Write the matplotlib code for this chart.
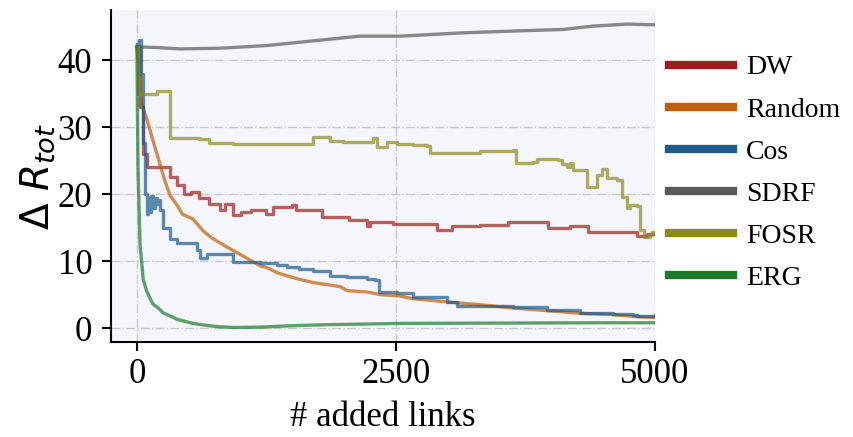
import matplotlib
matplotlib.use("Agg")
import matplotlib.pyplot as plt

plt.rcParams['font.family'] = ['Liberation Serif', 'DejaVu Serif']
plt.rcParams['mathtext.fontset'] = 'dejavusans'

# ---- data ----
labels = ["DW", "Random", "Cos", "SDRF", "FOSR", "ERG"]
colors = ["#a01c1c", "#c0600a", "#1c5a8c", "#5a5a5a", "#8c8c1c", "#1c7a2a"]

dw_x = [0, 30, 60, 95, 320, 390, 450, 520, 600, 700, 800, 850, 930, 1000, 1100, 1250,
        1310, 1500, 1540, 1700, 1790, 2050, 2220, 2250, 2470, 2900, 3040, 3310, 3580,
        3970, 4180, 4350, 4830, 4920, 5000]
dw_y = [42.0, 33.0, 26.0, 24.0, 22.6, 21.3, 20.1, 20.3, 19.4, 18.6, 17.6, 18.6, 16.9,
        17.4, 17.6, 17.1, 18.1, 18.4, 17.7, 17.6, 16.6, 16.1, 15.2, 15.9, 15.6, 14.7,
        15.2, 15.4, 15.9, 15.0, 15.3, 14.4, 13.8, 14.0, 14.0]

rnd_x = [0, 20, 45, 60, 100, 155, 220, 270, 320, 390, 440, 540, 640, 720, 870, 1020,
         1190, 1260, 1350, 1450, 1540, 1700, 1960, 2030, 2220, 2350, 2540, 2660, 3000,
         3310, 3630, 3960, 4280, 4600, 4830, 5000]
rnd_y = [42.0, 38.5, 33.5, 32.8, 31.0, 28.0, 24.6, 22.0, 19.8, 18.3, 17.0, 16.3, 14.5,
         13.5, 12.1, 10.8, 9.3, 9.0, 8.3, 7.8, 7.4, 6.8, 6.2, 5.6, 5.4, 5.0, 4.8, 4.4,
         3.9, 3.5, 3.0, 2.6, 2.2, 2.0, 1.7, 1.6]

cos_x = [0, 20, 40, 61, 80, 94, 106, 125, 140, 154, 175, 193, 210, 222, 251, 319, 386,
         483, 579, 608, 676, 720, 898, 927, 965, 1091, 1187, 1351, 1448, 1560, 1700,
         1863, 2027, 2220, 2300, 2340, 2510, 2664, 2992, 3089, 3311, 3630, 3958, 4276,
         4595, 4788, 4826, 5000]
cos_y = [42.5, 43.0, 38.0, 27.6, 20.0, 17.1, 19.6, 17.3, 19.8, 18.0, 19.5, 18.6, 19.1,
         17.6, 15.0, 13.3, 12.7, 12.7, 11.6, 10.5, 11.1, 11.1, 11.0, 9.9, 9.8, 9.8, 9.7,
         9.4, 9.1, 8.9, 8.5, 7.8, 7.6, 7.4, 7.2, 5.4, 5.2, 4.7, 3.9, 3.3, 3.3, 3.1, 2.7,
         2.3, 2.1, 2.0, 1.8, 1.9]

sdrf_x = [0, 200, 415, 800, 1255, 1700, 2150, 2540, 3150, 3700, 4110, 4400, 4730, 5000]
sdrf_y = [42.0, 41.9, 41.7, 41.8, 42.2, 42.9, 43.6, 43.6, 44.1, 44.4, 44.6, 45.1, 45.4, 45.3]

fosr_x = [0, 8, 195, 320, 600, 700, 930, 1570, 1700, 1860, 1990, 2280, 2320, 2410, 2510,
          2660, 2800, 2830, 3310, 3630, 3660, 3820, 3860, 4060, 4100, 4150, 4180, 4210,
          4345, 4420, 4440, 4490, 4540, 4630, 4680, 4730, 4760, 4830, 4855, 4890, 4950,
          4970, 5000]
fosr_y = [42.0, 35.0, 35.4, 28.4, 28.2, 27.7, 27.5, 27.5, 28.5, 28.0, 27.8, 28.4, 27.0,
          27.8, 27.5, 27.3, 27.2, 26.1, 26.4, 26.6, 24.7, 24.8, 25.2, 25.1, 24.5, 24.1,
          24.6, 23.6, 21.1, 21.1, 22.8, 23.8, 22.4, 22.1, 19.6, 17.9, 18.4, 18.3, 14.6,
          13.6, 13.9, 14.4, 14.4]

erg_x = [0, 10, 30, 45, 60, 95, 125, 155, 220, 250, 350, 390, 540, 700, 800, 930, 1200,
         1480, 1800, 2540, 3500, 4500, 5000]
erg_y = [42.0, 24.0, 12.5, 10.0, 7.3, 5.5, 4.5, 3.6, 2.8, 2.3, 1.6, 1.3, 0.7, 0.35, 0.2,
         0.1, 0.15, 0.35, 0.5, 0.7, 0.75, 0.8, 0.8]

x_ticks = [0, 2500, 5000]
y_ticks = [0, 10, 20, 30, 40]

series = [
    (dw_x, dw_y, "steps-post"),
    (rnd_x, rnd_y, "default"),
    (cos_x, cos_y, "steps-post"),
    (sdrf_x, sdrf_y, "default"),
    (fosr_x, fosr_y, "steps-post"),
    (erg_x, erg_y, "default"),
]

fig = plt.figure(figsize=(8.54, 4.37), dpi=100)
ax = fig.add_axes([0.130, 0.217, 0.637, 0.760])
ax.set_facecolor("#f5f6fc")

for (xs, ys, ds), lab, c in zip(series, labels, colors):
    ax.plot(xs, ys, color=c, lw=2.4, alpha=0.7, drawstyle=ds, label=lab)

ax.set_xlim(-250, 5000)
ax.set_ylim(-2.1, 47.5)
ax.set_xticks(x_ticks)
ax.set_yticks(y_ticks)
ax.grid(True, linestyle="-.", color="#c8c8c8", linewidth=1.0)
ax.set_axisbelow(True)

for s in ["top", "right"]:
    ax.spines[s].set_visible(False)
for s in ["left", "bottom"]:
    ax.spines[s].set_linewidth(1.5)
ax.tick_params(axis="both", labelsize=25, length=6.5, width=1.5, direction="out")
ax.tick_params(axis="y", pad=7)
ax.tick_params(axis="x", pad=5)

ax.set_xlabel("# added links", fontsize=25, labelpad=7)
ax.set_ylabel(r"$\Delta\ R_{tot}$", fontsize=28, labelpad=0)

leg = ax.legend(loc="upper left", bbox_to_anchor=(1.006, 0.898), frameon=False,
                fontsize=20, handlelength=2.3, handletextpad=0.45, labelspacing=0.6,
                borderaxespad=0.0, borderpad=0.4)
for h in leg.get_lines():
    h.set_linewidth(6)
    h.set_alpha(1.0)

fig.savefig("out.png", dpi=100)
